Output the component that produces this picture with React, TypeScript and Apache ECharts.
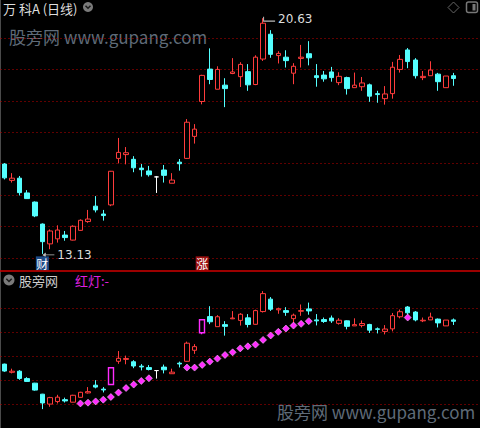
import React, { useEffect, useRef } from "react";
import * as echarts from "echarts";

// Daily bars (open / close / low / high)
const opens = [
  15.99, 15.47, 15.54, 15.07, 14.78, 14.08, 13.45, 13.61, 13.73, 13.57,
  13.88, 14.16, 14.65, 14.40, 14.69, 16.17, 16.29, 16.14, 15.86, 15.77,
  15.58, 15.80, 15.38, 16.05, 16.17, 16.87, 17.98, 19.01, 18.37, 18.50,
  18.87, 18.77, 18.93, 18.52, 19.33, 20.12, 19.44, 19.39, 18.88, 19.35,
  19.50, 18.80, 18.82, 18.92, 18.58, 18.74, 18.42, 18.45, 18.51, 18.23,
  18.07, 18.23, 19.00, 19.62, 19.30, 18.74, 18.80, 18.85, 18.42, 18.80,
];
const closes = [
  15.55, 15.54, 15.08, 14.89, 14.34, 13.52, 13.86, 13.89, 13.65, 14.01,
  14.20, 14.24, 14.53, 14.35, 15.76, 16.36, 16.35, 15.87, 15.81, 15.65,
  15.58, 15.63, 15.48, 16.00, 17.32, 17.10, 18.81, 18.68, 19.00, 18.39,
  18.92, 19.16, 18.51, 19.39, 20.47, 19.48, 19.51, 19.28, 19.10, 19.39,
  19.37, 18.74, 18.70, 18.74, 18.78, 18.39, 18.50, 18.57, 18.15, 18.20,
  18.22, 19.07, 19.32, 19.25, 18.80, 18.78, 18.98, 18.61, 18.79, 18.71,
];
const lows = [
  15.50, 15.40, 14.99, 14.88, 14.30, 13.13, 13.28, 13.49, 13.55, 13.56,
  13.87, 14.12, 14.45, 14.19, 14.65, 16.01, 15.98, 15.73, 15.59, 15.59,
  15.07, 15.40, 15.38, 15.78, 16.15, 16.64, 17.89, 18.53, 18.37, 17.80,
  18.85, 18.44, 18.32, 18.50, 19.27, 19.37, 19.19, 19.06, 18.53, 19.06,
  19.13, 18.45, 18.61, 18.61, 18.50, 18.20, 18.42, 18.32, 17.97, 17.94,
  17.88, 18.07, 18.90, 19.04, 18.71, 18.66, 18.80, 18.32, 18.42, 18.48,
];
const highs = [
  16.02, 15.70, 15.61, 15.16, 14.80, 14.10, 13.91, 14.04, 13.86, 14.04,
  14.23, 14.53, 14.97, 14.53, 15.77, 16.82, 16.53, 16.24, 15.99, 15.93,
  15.61, 15.96, 15.70, 16.15, 17.42, 17.26, 18.83, 19.67, 19.10, 18.72,
  19.36, 19.23, 19.17, 19.45, 20.63, 20.25, 19.58, 19.61, 19.20, 19.78,
  19.90, 19.17, 18.95, 19.08, 18.91, 18.77, 18.90, 18.76, 18.55, 18.32,
  18.47, 19.24, 19.46, 19.68, 19.36, 18.95, 19.26, 18.89, 18.79, 18.89,
];

// "红灯" indicator line (only plotted while the signal is active)
const redLamp = [
  null, null, null, null, null, null, null, null, null, null,
  13.49, 13.54, 13.62, 13.73, 13.90, 14.18, 14.47, 14.69, 14.92, 15.09,
  null, null, null, null, 15.77, 15.77, 15.94, 16.15, 16.34, 16.57,
  16.74, 16.99, 17.12, 17.23, 17.53, 17.81, 18.04, 18.25, 18.44, 18.55,
  18.72, null, null, null, null, null, null, null, null, null,
  null, null, null, 18.95, null, null, null, null, null, null,
];

// Bars flagged by the indicator in the lower panel
const signalDays = [14, 26];

// Event markers under the price panel: [day index, text, background]
const eventMarks: [number, string, string][] = [
  [5, "财", "#1d4a86"],
  [26, "涨", "#9c1010"],
];

// Day slots on the time axis (the last few are still empty)
const days = Array.from({ length: 63 }, (_, i) => `D${i + 1}`);

const RED = "#ff3c3c";
const CYAN = "#54ffff";
const MAGENTA = "#ff2cff";
const GRID_RED = "#c00000";

export default function App() {
  const ref = useRef<HTMLDivElement>(null);

  useEffect(() => {
    if (!ref.current) return;
    const chart = echarts.init(ref.current, null, { renderer: "svg" });

    const ohlc = opens.map((o, i) => [o, closes[i], lows[i], highs[i]]);
    const lowerOhlc = ohlc.map((v, i) =>
      signalDays.includes(i)
        ? { value: v, itemStyle: { color: "#000", borderColor: MAGENTA, borderWidth: 1.4 } }
        : v
    );

    const hiIdx = highs.indexOf(Math.max(...highs));
    const loIdx = lows.indexOf(Math.min(...lows));

    const candleStyle = {
      color: "#000",
      color0: CYAN,
      borderColor: RED,
      borderColor0: CYAN,
      borderColorDoji: "#ffffff",
      borderWidth: 1,
    };

    const dotted = { color: GRID_RED, type: [1, 3] as number[], width: 1 };
    const hiddenAxis = {
      axisLine: { show: false },
      axisTick: { show: false },
      axisLabel: { show: false },
    };

    const wmFont = '17px "Noto Sans CJK SC", sans-serif';

    chart.setOption({
      animation: false,
      backgroundColor: "#000",
      grid: [
        { left: 0.5, width: 480.5, top: 6.57, height: 282.87 },
        { left: 0.5, width: 480.5, top: 284, height: 162 },
      ],
      xAxis: [
        { type: "category", gridIndex: 0, data: days, boundaryGap: true, ...hiddenAxis, splitLine: { show: false } },
        { type: "category", gridIndex: 1, data: days, boundaryGap: true, ...hiddenAxis, splitLine: { show: false } },
      ],
      yAxis: [
        {
          type: "value",
          gridIndex: 0,
          min: 12,
          max: 21,
          interval: 1,
          ...hiddenAxis,
          splitLine: { show: true, showMinLine: false, showMaxLine: false, lineStyle: dotted },
        },
        {
          type: "value",
          gridIndex: 1,
          min: 11.93,
          max: 21.082,
          ...hiddenAxis,
          splitLine: { show: false },
        },
        {
          type: "value",
          gridIndex: 1,
          min: 0,
          max: 6,
          interval: 1,
          ...hiddenAxis,
          splitLine: { show: true, showMinLine: false, showMaxLine: false, lineStyle: dotted },
        },
      ],
      series: [
        {
          type: "candlestick",
          xAxisIndex: 0,
          yAxisIndex: 0,
          data: ohlc,
          barWidth: 5,
          itemStyle: candleStyle,
          markPoint: {
            silent: true,
            data: [
              {
                coord: [hiIdx, highs[hiIdx]],
                symbol: "path://M0,0 L1,0 L1,3 L12,3 L12,4 L0,4 Z",
                symbolSize: [12, 5],
                symbolOffset: [6, 1],
                itemStyle: { color: "#bbbbbb" },
                label: {
                  show: true,
                  position: "right",
                  distance: 3,
                  formatter: highs[hiIdx].toFixed(2),
                  color: "#dddddd",
                  fontSize: 12,
                  fontFamily: "DejaVu Sans",
                },
              },
              {
                coord: [loIdx, lows[loIdx]],
                symbol: "path://M0,3 L4,0 L4,2.5 L14,2.5 L14,3.5 L4,3.5 L4,6 Z",
                symbolSize: [12, 5],
                symbolKeepAspect: false,
                symbolOffset: [6, 1],
                itemStyle: { color: "#bbbbbb" },
                label: {
                  show: true,
                  position: "right",
                  distance: 3,
                  formatter: lows[loIdx].toFixed(2),
                  color: "#dddddd",
                  fontSize: 12,
                  fontFamily: "DejaVu Sans",
                },
              },
              ...eventMarks.map(([d, t, bg]) => ({
                coord: [d, 12.83],
                symbol: "rect",
                symbolSize: [13, 14],
                itemStyle: { color: bg },
                label: {
                  show: true,
                  position: "inside",
                  formatter: t,
                  color: "#ffffff",
                  fontSize: 12,
                  fontFamily: '"Noto Sans CJK SC"',
                },
              })),
            ],
          },
        },
        {
          type: "candlestick",
          xAxisIndex: 1,
          yAxisIndex: 1,
          data: lowerOhlc,
          barWidth: 5,
          itemStyle: candleStyle,
        },
        {
          type: "line",
          name: "红灯",
          xAxisIndex: 1,
          yAxisIndex: 1,
          data: redLamp,
          symbol: "diamond",
          symbolSize: 7,
          showSymbol: true,
          showAllSymbol: true,
          connectNulls: false,
          lineStyle: { width: 0, opacity: 0 },
          itemStyle: { color: MAGENTA, borderColor: "#ffb0ff", borderWidth: 0.6 },
          z: 5,
        },
      ],
      graphic: [
        { type: "line", shape: { x1: 0.5, y1: 0, x2: 0.5, y2: 428 }, style: { stroke: "#4a4a4a", lineWidth: 1 } },
        { type: "line", shape: { x1: 0, y1: 271, x2: 480, y2: 271 }, style: { stroke: "#d00000", lineWidth: 1.5 }, z: 10 },
        {
          type: "text",
          x: 3,
          y: 8,
          style: { text: "万 科A (日线)", fill: "#dddddd", font: '13px "Noto Sans CJK SC"', verticalAlign: "middle" },
        },
        { type: "circle", shape: { cx: 88, cy: 7, r: 5 }, style: { fill: "#7a7a7a" } },
        { type: "polyline", shape: { points: [[85.5, 5.8], [88, 8.3], [90.5, 5.8]] }, style: { stroke: "#1a1a1a", lineWidth: 1.5, fill: "none" } },
        { type: "polygon", shape: { points: [[453.5, 2], [459, 7.5], [453.5, 13], [448, 7.5]] }, style: { stroke: "#666", fill: "none", lineWidth: 1 } },
        { type: "rect", shape: { x: 466.5, y: 2, width: 11, height: 10.5, r: 2 }, style: { stroke: "#777", fill: "none", lineWidth: 1.5 } },
        { type: "rect", shape: { x: 472.5, y: 4, width: 3, height: 6.5 }, style: { fill: "#777" } },
        {
          type: "text",
          x: 9,
          y: 36.5,
          style: { text: "股旁网 www.gupang.com", fill: "#5f6b78", font: wmFont, verticalAlign: "middle" },
        },
        {
          type: "text",
          x: 277,
          y: 411,
          style: { text: "股旁网 www.gupang.com", fill: "#5f6b78", font: wmFont, verticalAlign: "middle" },
        },
        { type: "circle", shape: { cx: 9, cy: 280, r: 5.5 }, style: { fill: "#7a7a7a" } },
        { type: "polyline", shape: { points: [[6.3, 278.8], [9, 281.5], [11.7, 278.8]] }, style: { stroke: "#1a1a1a", lineWidth: 1.5, fill: "none" } },
        {
          type: "text",
          x: 19,
          y: 280,
          style: { text: "股旁网", fill: "#cccccc", font: '13px "Noto Sans CJK SC"', verticalAlign: "middle" },
        },
        {
          type: "text",
          x: 75,
          y: 280,
          style: { text: "红灯:-", fill: "#e020e0", font: '13px "Noto Sans CJK SC"', verticalAlign: "middle" },
        },
      ],
    });

    return () => chart.dispose();
  }, []);

  return (
    <div
      ref={ref}
      style={{ position: "absolute", left: 0, top: 0, width: 480, height: 428, background: "#000" }}
    />
  );
}
